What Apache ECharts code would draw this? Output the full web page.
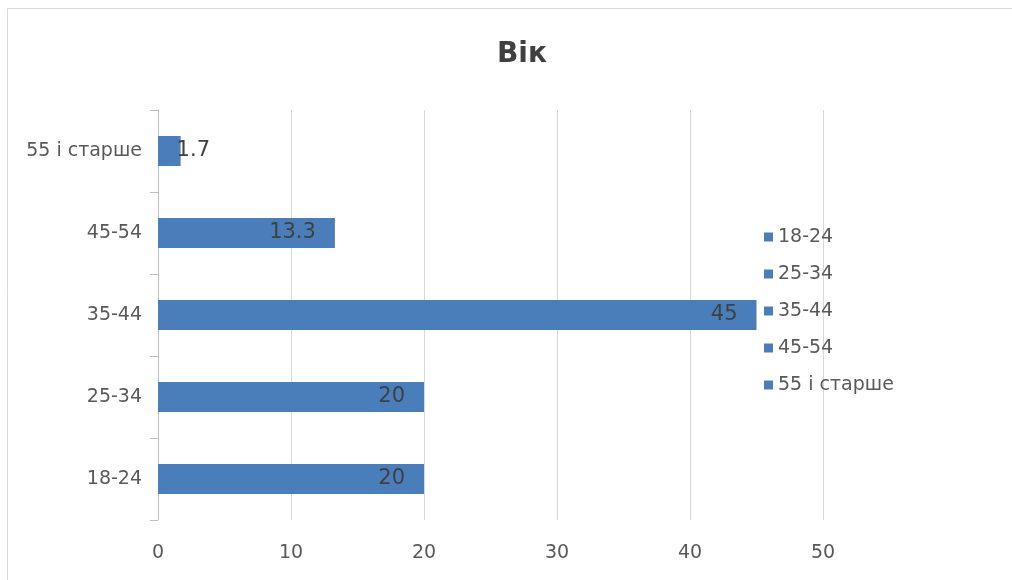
<!DOCTYPE html>
<html>
<head>
<meta charset="utf-8">
<script src="https://cdn.jsdelivr.net/npm/echarts@6/dist/echarts.min.js"></script>
<style>
  html, body { margin: 0; padding: 0; background: #ffffff; }
  #chart { width: 1012px; height: 580px; }
</style>
</head>
<body>
<div id="chart"></div>
<script>
// Age groups and their shares (%)
const categories = ['18-24', '25-34', '35-44', '45-54', '55 і старше'];
const values = [20, 20, 45, 13.3, 1.7];
const xTicks = [0, 10, 20, 30, 40, 50];
const titleText = 'Вік';

const FONT = '"DejaVu Sans", sans-serif';
const BAR = '#4a7ebb';

// One series per age group so each gets its own legend entry;
// stacking keeps every bar centred on its own category row.
const series = categories.map((name, i) => ({
  name: name,
  type: 'bar',
  stack: 'age',
  barWidth: 30,
  itemStyle: { color: BAR },
  data: categories.map((_, j) => (j === i ? values[j] : '-')),
  label: {
    show: true,
    position: values[i] < 5 ? 'right' : 'insideRight',
    distance: values[i] < 5 ? -4 : 19,
    color: '#404040',
    fontFamily: FONT,
    fontSize: 21
  }
}));

const chart = echarts.init(document.getElementById('chart'));
chart.setOption({
  animation: false,
  backgroundColor: '#ffffff',
  title: {
    text: titleText,
    left: 517,
    top: 36,
    textAlign: 'center',
    textStyle: { fontFamily: FONT, fontSize: 28, fontWeight: 'bold', color: '#404040' }
  },
  legend: {
    orient: 'vertical',
    left: 759,
    top: 222,
    icon: 'rect',
    itemWidth: 9,
    itemHeight: 9,
    itemGap: 17,
    data: categories,
    textStyle: { fontFamily: FONT, fontSize: 19, color: '#595959', lineHeight: 20 }
  },
  grid: { left: 158, right: 189, top: 110, bottom: 60, containLabel: false },
  xAxis: {
    type: 'value',
    min: xTicks[0],
    max: xTicks[xTicks.length - 1],
    interval: xTicks[1] - xTicks[0],
    axisLine: { show: false },
    axisTick: { show: false },
    splitLine: { lineStyle: { color: '#d9d9d9', width: 1 } },
    axisLabel: { fontFamily: FONT, fontSize: 19, color: '#595959', margin: 24 }
  },
  yAxis: {
    type: 'category',
    data: categories,
    axisLine: { lineStyle: { color: '#bfbfbf', width: 1 } },
    axisTick: { show: true, length: 8, lineStyle: { color: '#bfbfbf' } },
    axisLabel: { fontFamily: FONT, fontSize: 19, color: '#595959', margin: 16 }
  },
  graphic: [
    { type: 'line', shape: { x1: 7.5, y1: 8.5, x2: 1012, y2: 8.5 }, style: { stroke: '#d9d9d9', lineWidth: 1 } },
    { type: 'line', shape: { x1: 7.5, y1: 8.5, x2: 7.5, y2: 580 }, style: { stroke: '#d9d9d9', lineWidth: 1 } }
  ],
  series: series
});
</script>
</body>
</html>
